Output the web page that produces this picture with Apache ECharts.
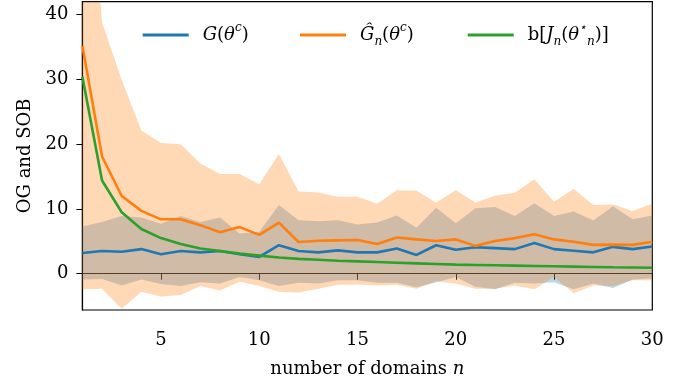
<!DOCTYPE html>
<html>
<head>
<meta charset="utf-8">
<script src="https://cdn.jsdelivr.net/npm/echarts@6/dist/echarts.min.js"></script>
<style>
html,body{margin:0;padding:0;background:#fff;}
#c{width:685px;height:383px;}
</style>
</head>
<body>
<div id="c"></div>
<script>
const ns = [1,2,3,4,5,6,7,8,9,10,11,12,13,14,15,16,17,18,19,20,21,22,23,24,25,26,27,28,29,30];
const xTicks = [5,10,15,20,25,30];
const yTicks = [0,10,20,30,40];

const G    = [3.2,3.5,3.4,3.8,3.0,3.5,3.3,3.5,3.0,2.6,4.4,3.5,3.3,3.6,3.3,3.3,3.9,2.9,4.4,3.7,4.1,3.95,3.8,4.75,3.8,3.55,3.3,4.15,3.8,4.2];
const Glow = [-0.9,-0.8,-1.8,-0.9,-1.6,-1.9,-1.3,-1.5,-0.5,-1.0,-1.9,-1.4,-1.5,-1.0,-1.0,-1.4,-1.4,-2.1,-1.3,-0.5,-2.0,-2.4,-1.4,-1.5,-1.3,-2.4,-1.5,-2.2,-0.9,-0.7];
const Gup  = [7.3,8.0,8.9,8.7,7.7,8.9,8.0,8.7,6.2,6.5,10.6,8.25,8.1,8.25,7.6,7.9,9.0,7.1,10.2,7.8,10.1,10.3,8.9,10.9,8.9,9.6,8.2,10.4,8.4,9.0];

const Ghat    = [35.2,18.1,12.0,9.7,8.4,8.4,7.5,6.4,7.2,6.0,7.9,4.9,5.1,5.15,5.2,4.6,5.6,5.3,5.05,5.3,4.3,5.05,5.5,6.1,5.3,4.95,4.45,4.5,4.45,4.95];
const GhatLow = [-2.4,-2.3,-5.4,-2.8,-3.5,-3.3,-1.9,-2.6,-1.2,-1.9,-2.8,-2.9,-2.3,-1.7,-1.65,-1.8,-1.7,-2.3,-1.15,-1.5,-2.3,-2.3,-1.8,-2.4,-0.5,-3.0,-1.8,-1.9,-1.0,-1.0];
const GhatUp  = [78,38.8,29.9,22.1,20.2,20.0,17.0,15.4,15.4,13.8,18.5,12.7,12.55,11.9,11.9,10.8,12.9,12.8,11.0,12.9,11.0,12.05,12.5,14.6,11.1,13.1,10.6,10.7,9.7,10.8];

const B = [30.4,14.4,9.5,6.9,5.5,4.6,3.9,3.5,3.1,2.8,2.5,2.3,2.15,2.0,1.9,1.8,1.7,1.6,1.5,1.4,1.35,1.3,1.25,1.2,1.15,1.1,1.05,1.0,0.97,0.92];

const C_BLUE = '#1f77b4', C_ORANGE = '#ff7f0e', C_GREEN = '#2ca02c';
const FONT = 'DejaVu Serif';

const diff = (up, lo) => up.map((u,i)=>u - lo[i]);

function bandSeries(lo, up, stackId, color){
  return [
    {type:'line', name: stackId+'_lo', data: lo.slice(), stack: stackId, stackStrategy:'all',
     symbol:'none', lineStyle:{width:0, opacity:0}, silent:true, z:1},
    {type:'line', name: stackId+'_up', data: diff(up, lo), stack: stackId, stackStrategy:'all',
     symbol:'none', lineStyle:{width:0, opacity:0}, areaStyle:{color: color, opacity:1}, silent:true, z:1}
  ];
}

const rich = {
  sp:{width:9, fontSize:18, fontFamily:FONT, lineHeight:26},
  r:{fontSize:18, fontFamily:FONT, color:'#000', lineHeight:26},
  i:{fontSize:18, fontFamily:FONT, fontStyle:'italic', color:'#000', lineHeight:26},
  sup:{fontSize:12, fontFamily:FONT, fontStyle:'italic', color:'#000', verticalAlign:'top', lineHeight:26},
  sub:{fontSize:12, fontFamily:FONT, fontStyle:'italic', color:'#000', verticalAlign:'bottom', lineHeight:26}
};
const names = ['G', 'Ghat', 'B'];
const labels = {
  G: '{sp| }{i|G}{r|(}{i|θ}{sup|c}{r|)}',
  Ghat: '{sp| }{i|Ĝ}{sub|n}{r|(}{i|θ}{sup|c}{r|)}',
  B: '{sp| }{r|b[}{i|J}{sub|n}{r|(}{i|θ}{sup|⋆}{sub|n}{r|)]}'
};
const legendLeft = [142.7, 300, 467.7];
const isTick = (idx, val) => xTicks.indexOf(Number(val)) >= 0;

const chart = echarts.init(document.getElementById('c'), null, {renderer:'canvas'});
chart.setOption({
  animation:false,
  backgroundColor:'#fff',
  grid:{left:82.4, right:32.7, top:1.7, bottom:68, show:true, borderColor:'#000', borderWidth:1.2, backgroundColor:'transparent'},
  legend: names.map((nm,k)=>({
    data:[nm], left: legendLeft[k], top: 22, padding:0,
    icon:'rect', itemWidth:46, itemHeight:3,
    formatter: name => labels[name],
    textStyle:{rich: rich}
  })),
  xAxis:{
    type:'category', data: ns.map(String), boundaryGap:false,
    axisLine:{show:true, lineStyle:{color:'#000', width:1.2}},
    axisTick:{show:true, length:6, lineStyle:{color:'#000', width:1}, interval: isTick},
    axisLabel:{interval: isTick, margin:21, color:'#000', fontFamily:FONT, fontSize:18},
    splitLine:{show:false},
    name:'{r|number of domains }{i|n}', nameLocation:'middle', nameGap:46,
    nameTextStyle:{rich: rich}
  },
  yAxis:{
    type:'value', min:-5.6, max:42,
    axisLine:{show:true, lineStyle:{color:'#000', width:1.2}},
    axisTick:{show:true, length:6, lineStyle:{color:'#000', width:1}, customValues: yTicks},
    axisLabel:{customValues: yTicks, margin:14, color:'#000', fontFamily:FONT, fontSize:18},
    splitLine:{show:false},
    name:'OG and SOB', nameLocation:'middle', nameGap:48, nameRotate:90,
    nameTextStyle:{fontFamily:FONT, fontSize:18, color:'#000'}
  },
  series: [
    ...bandSeries(Glow, Gup, 'gband', 'rgba(31,119,180,0.3)'),
    ...bandSeries(GhatLow, GhatUp, 'hband', 'rgba(255,127,14,0.3)'),
    {type:'line', name:'G', data:G, symbol:'none', lineStyle:{color:C_BLUE, width:2.6}, itemStyle:{color:C_BLUE}, z:3},
    {type:'line', name:'Ghat', data:Ghat, symbol:'none', lineStyle:{color:C_ORANGE, width:2.6}, itemStyle:{color:C_ORANGE}, z:3},
    {type:'line', name:'B', data:B, symbol:'none', lineStyle:{color:C_GREEN, width:2.6}, itemStyle:{color:C_GREEN}, z:3}
  ]
});
</script>
</body>
</html>
